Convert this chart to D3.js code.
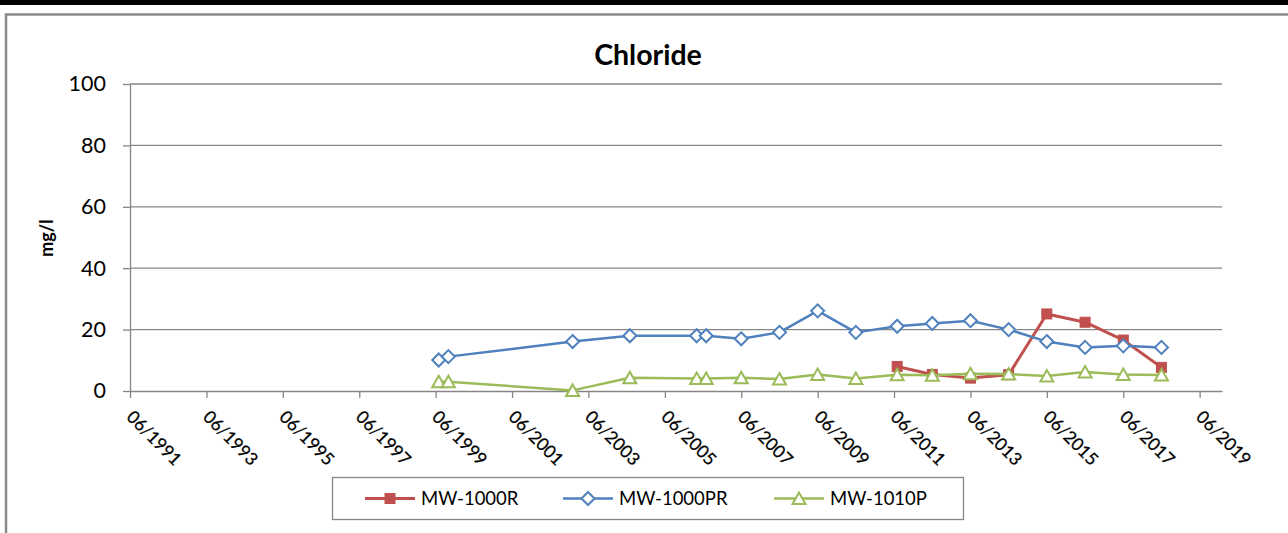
<!DOCTYPE html>
<html><head><meta charset="utf-8">
<script src="https://cdn.jsdelivr.net/npm/d3@7"></script>
<style>
body{margin:0;background:#fff;}
svg{display:block;font-family:Lato,"Open Sans",sans-serif;}
</style>
</head><body><svg id="c" width="1288" height="533"></svg>
<script>
// ---- data ----
const chartTitle = "Chloride";
const yAxisTitle = "mg/l";
const seriesNames = ["MW-1000R", "MW-1000PR", "MW-1010P"];
const datesR = ["2011-07","2012-06","2013-06","2014-06","2015-06","2016-06","2017-06","2018-06"];
const valuesR = [8.0, 5.4, 4.2, 5.3, 25.1, 22.4, 16.6, 7.7];
const datesPR = ["1999-07","1999-10","2003-01","2004-07","2006-04","2006-07","2007-06","2008-06","2009-06","2010-06","2011-07","2012-06","2013-06","2014-06","2015-06","2016-06","2017-06","2018-06"];
const valuesPR = [10.1, 11.2, 16.1, 18.0, 18.0, 18.0, 17.0, 19.1, 26.1, 19.1, 21.1, 22.0, 22.9, 20.0, 16.1, 14.2, 14.7, 14.2];
const dates1010 = ["1999-07","1999-10","2003-01","2004-07","2006-04","2006-07","2007-06","2008-06","2009-06","2010-06","2011-07","2012-06","2013-06","2014-06","2015-06","2016-06","2017-06","2018-06"];
const values1010 = [3.0, 3.0, 0.2, 4.3, 4.1, 4.1, 4.3, 3.9, 5.4, 4.1, 5.3, 5.1, 5.6, 5.5, 4.9, 6.2, 5.4, 5.2];
const yTickValues = [0, 20, 40, 60, 80, 100];
const xTickLabels = ["06/1991","06/1993","06/1995","06/1997","06/1999","06/2001","06/2003","06/2005","06/2007","06/2009","06/2011","06/2013","06/2015","06/2017","06/2019"];
const xDomain = ["1991-06-01", "2020-01-01"];

// ---- styles ----
const colors = ["#C0504D", "#4F81BD", "#9BBB59"];
const lineWidths = [3, 2.5, 2.5];
const gridColor = "#868686";

const svg = d3.select("#c");
const parseYM = d3.utcParse("%Y-%m");
const parseYMD = d3.utcParse("%Y-%m-%d");
const parseTick = d3.utcParse("%m/%Y");

const plot = {left: 130, right: 1222, top: 84, bottom: 391};

const x = d3.scaleUtc().domain(xDomain.map(parseYMD)).range([plot.left, plot.right]);
const y = d3.scaleLinear().domain([0, 100]).range([plot.bottom, plot.top]);

// top black band + chart border
svg.append("rect").attr("x",0).attr("y",0).attr("width",1288).attr("height",5).attr("fill","#000");
svg.append("rect").attr("x",6).attr("y",14.5).attr("width",1300).attr("height",540)
  .attr("fill","none").attr("stroke","#8a8a8a").attr("stroke-width",2.5);

// gridlines
svg.append("g").selectAll("line").data(yTickValues.filter(v => v > 0)).join("line")
  .attr("x1", plot.left).attr("x2", plot.right)
  .attr("y1", d => y(d)).attr("y2", d => y(d))
  .attr("stroke", gridColor).attr("stroke-width", 1.3);

// y axis
const gy = svg.append("g").attr("transform", `translate(${plot.left},0)`)
  .call(d3.axisLeft(y).tickValues(yTickValues).tickSize(7).tickSizeOuter(0).tickPadding(17).tickFormat(d3.format("d")));
gy.select(".domain").attr("stroke", gridColor).attr("stroke-width", 1.3);
gy.selectAll(".tick line").attr("stroke", gridColor).attr("stroke-width", 1.3);
gy.selectAll(".tick text").attr("font-family","Lato").attr("font-size", 21.5).attr("fill","#000");

// x axis
const xTickDates = xTickLabels.map(parseTick);
const gx = svg.append("g").attr("transform", `translate(0,${plot.bottom})`)
  .call(d3.axisBottom(x).tickValues(xTickDates).tickSize(7).tickSizeOuter(0)
    .tickFormat((d, i) => xTickLabels[i]));
gx.select(".domain").attr("stroke", gridColor).attr("stroke-width", 1.3);
gx.selectAll(".tick line").attr("stroke", gridColor).attr("stroke-width", 1.3);
gx.selectAll(".tick text")
  .attr("x", 0).attr("y", 0).attr("dy", 0)
  .attr("text-anchor", "start")
  .attr("transform", "translate(-5,27) rotate(45)")
  .attr("font-family","Lato").attr("font-size", 17.5).attr("fill","#000")
  .attr("stroke","#000").attr("stroke-width",0.25);

// title
svg.append("text").attr("x", 648).attr("y", 65).attr("text-anchor","middle")
  .attr("font-size", 28.5).attr("font-weight","bold").text(chartTitle);

// y title
svg.append("text").attr("transform","translate(53,238) rotate(-90)").attr("text-anchor","middle")
  .attr("font-size", 18).attr("font-weight","bold").text(yAxisTitle);

// markers
const markerShapes = [
  (g, c) => g.append("rect").attr("x",-5).attr("y",-5).attr("width",10).attr("height",10).attr("fill",c).attr("stroke",c).attr("stroke-width",1),
  (g, c) => g.append("path").attr("d","M0,-6.5L6.5,0L0,6.5L-6.5,0Z").attr("fill","#fff").attr("stroke",c).attr("stroke-width",2),
  (g, c) => g.append("path").attr("d","M0,-6L6.5,5.5L-6.5,5.5Z").attr("fill","#fff").attr("stroke",c).attr("stroke-width",2)
];

const series = [
  {dates: datesR, values: valuesR},
  {dates: datesPR, values: valuesPR},
  {dates: dates1010, values: values1010}
];

const line = d3.line().x(d => x(d.date)).y(d => y(d.value));
series.forEach((s, i) => {
  const pts = s.dates.map((d, j) => ({date: parseYM(d), value: s.values[j]}));
  const g = svg.append("g");
  g.append("path").datum(pts).attr("d", line).attr("fill","none")
    .attr("stroke", colors[i]).attr("stroke-width", lineWidths[i]).attr("stroke-linejoin","round");
  pts.forEach(p => {
    const mg = g.append("g").attr("transform", `translate(${x(p.date)},${y(p.value)})`);
    markerShapes[i](mg, colors[i]);
  });
});

// legend
const legendBox = {x: 332.5, y: 477.5, w: 631, h: 42};
const legendItemX = [365, 563, 774];
svg.append("rect").attr("x", legendBox.x).attr("y", legendBox.y).attr("width", legendBox.w).attr("height", legendBox.h)
  .attr("fill","#fff").attr("stroke", gridColor).attr("stroke-width", 1.3);
const ly = legendBox.y + legendBox.h / 2;
seriesNames.forEach((name, i) => {
  const lx = legendItemX[i];
  svg.append("line").attr("x1", lx).attr("x2", lx + 50).attr("y1", ly).attr("y2", ly)
    .attr("stroke", colors[i]).attr("stroke-width", lineWidths[i]);
  const mg = svg.append("g").attr("transform", `translate(${lx + 25},${ly})`);
  markerShapes[i](mg, colors[i]);
  svg.append("text").attr("x", lx + 56).attr("y", ly).attr("dy","0.36em")
    .attr("font-size", 18.5).attr("fill","#000").text(name);
});
</script>
</body></html>
